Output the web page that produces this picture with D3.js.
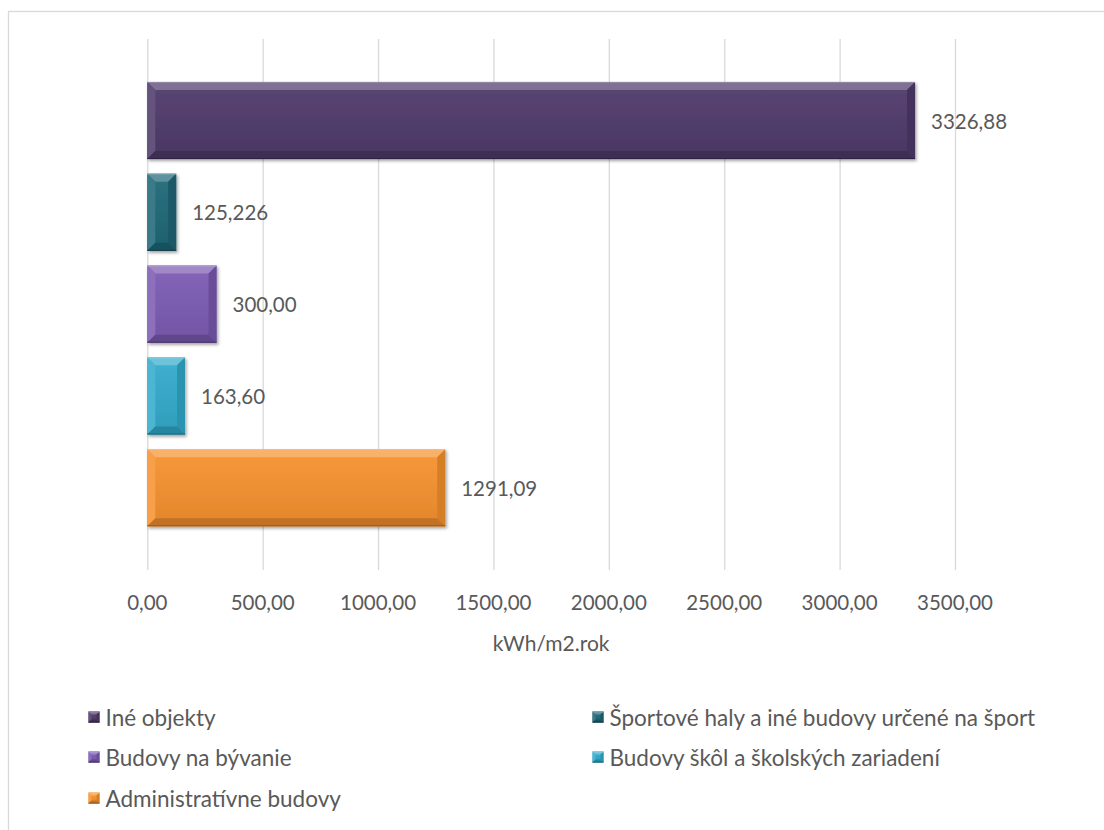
<!DOCTYPE html>
<html>
<head>
<meta charset="utf-8">
<script src="https://cdn.jsdelivr.net/npm/d3@7"></script>
<style>
  html, body { margin: 0; padding: 0; background: #fff; }
  svg { display: block; }
  text { font-family: Lato, "Open Sans", sans-serif; fill: #595959; }
</style>
</head>
<body>
<svg id="chart" width="1104" height="830"></svg>
<script>
// Energy intensity per building type (kWh/m2 per year)
const categories = [
  "Iné objekty",
  "Športové haly a iné budovy určené na šport",
  "Budovy na bývanie",
  "Budovy škôl a školských zariadení",
  "Administratívne budovy"
];
const values = [3326.88, 125.226, 300.00, 163.60, 1291.09];
const valueLabels = ["3326,88", "125,226", "300,00", "163,60", "1291,09"];
const xTicks = [0, 500, 1000, 1500, 2000, 2500, 3000, 3500];
const colors = ["#4f3a6b", "#1f6878", "#7c5bb3", "#33abcc", "#f7922f"];
const axisTitle = "kWh/m2.rok";

const skFormat = d3.formatLocale({ decimal: ",", thousands: " ", grouping: [3], currency: ["", ""] }).format(".2f");

const svg = d3.select("#chart");

// outer chart frame
svg.append("rect")
  .attr("x", 8.5).attr("y", 11.5)
  .attr("width", 1100).attr("height", 830)
  .attr("fill", "#fff").attr("stroke", "#d9d9d9").attr("stroke-width", 1.3);

const defs = svg.append("defs");
const shadow = defs.append("filter").attr("id", "shadow")
  .attr("x", "-10%").attr("y", "-10%").attr("width", "130%").attr("height", "130%");
shadow.append("feDropShadow")
  .attr("dx", 1.5).attr("dy", 2).attr("stdDeviation", 1.6)
  .attr("flood-color", "#000").attr("flood-opacity", 0.35);

const x = d3.scaleLinear().domain([0, 3500]).range([147.3, 955]);
const y = d3.scaleBand().domain(categories).range([74.6, 533.6])
  .paddingInner(0.16).paddingOuter(0.08);

// vertical gridlines
svg.append("g").selectAll("line").data(xTicks).join("line")
  .attr("x1", d => x(d) + 0.5).attr("x2", d => x(d) + 0.5)
  .attr("y1", 39).attr("y2", 570)
  .attr("stroke", "#d9d9d9").attr("stroke-width", 1.3);

// tick labels
svg.append("g").selectAll("text").data(xTicks).join("text")
  .attr("x", d => x(d)).attr("y", 602)
  .attr("text-anchor", "middle").attr("dominant-baseline", "central")
  .attr("font-size", 20.5)
  .text(d => skFormat(d));

svg.append("text")
  .attr("x", (x(0) + x(3500)) / 2).attr("y", 642)
  .attr("text-anchor", "middle").attr("dominant-baseline", "central")
  .attr("font-size", 21)
  .text(axisTitle);

const mix = (c, t, k) => d3.interpolateRgb(c, t)(k);

// bevelled box: light top/left edges, dark bottom/right edges
function bevelBox(g, x0, y0, x1, y1, color, b, id) {
  const grad = defs.append("linearGradient").attr("id", id)
    .attr("x1", 0).attr("y1", 0).attr("x2", 0).attr("y2", 1);
  grad.append("stop").attr("offset", "0%").attr("stop-color", mix(color, "#fff", 0.06));
  grad.append("stop").attr("offset", "100%").attr("stop-color", mix(color, "#000", 0.08));
  const bb = Math.min(b, (x1 - x0) / 2, (y1 - y0) / 2);
  const box = g.append("g");
  box.append("rect").attr("x", x0).attr("y", y0)
    .attr("width", x1 - x0).attr("height", y1 - y0)
    .attr("fill", `url(#${id})`);
  const poly = (pts, fill) => box.append("polygon")
    .attr("points", pts.map(p => p.join(",")).join(" ")).attr("fill", fill);
  poly([[x0, y0], [x1, y0], [x1 - bb, y0 + bb], [x0 + bb, y0 + bb]], mix(color, "#fff", 0.28));
  poly([[x0, y0], [x0 + bb, y0 + bb], [x0 + bb, y1 - bb], [x0, y1]], mix(color, "#fff", 0.12));
  poly([[x0, y1], [x0 + bb, y1 - bb], [x1 - bb, y1 - bb], [x1, y1]], mix(color, "#000", 0.22));
  poly([[x1, y0], [x1, y1], [x1 - bb, y1 - bb], [x1 - bb, y0 + bb]], mix(color, "#000", 0.14));
  box.append("line").attr("x1", x0).attr("x2", x1).attr("y1", y0 + 0.5).attr("y2", y0 + 0.5)
    .attr("stroke", mix(color, "#fff", 0.4)).attr("stroke-width", 1);
  box.append("line").attr("x1", x0).attr("x2", x1).attr("y1", y1 - 0.5).attr("y2", y1 - 0.5)
    .attr("stroke", mix(color, "#000", 0.4)).attr("stroke-width", 1);
  return box;
}

// bars
const barLayer = svg.append("g").attr("filter", "url(#shadow)");
categories.forEach((c, i) => {
  bevelBox(barLayer, x(0), y(c), x(values[i]), y(c) + y.bandwidth(), colors[i], 8, "bar" + i);
});

// value labels
svg.append("g").selectAll("text").data(categories).join("text")
  .attr("x", (d, i) => x(values[i]) + 16)
  .attr("y", d => y(d) + y.bandwidth() / 2)
  .attr("dominant-baseline", "central")
  .attr("font-size", 20.5)
  .text((d, i) => valueLabels[i]);

// legend, two columns
const legendCols = [88.5, 592.5];
const legendRows = [717, 757, 798];
const legend = svg.append("g");
categories.forEach((c, i) => {
  const lx = legendCols[i % 2];
  const ly = legendRows[Math.floor(i / 2)];
  bevelBox(legend, lx, ly - 5.5, lx + 11, ly + 5.5, colors[i], 3, "leg" + i);
  legend.append("text")
    .attr("x", lx + 17).attr("y", ly)
    .attr("dominant-baseline", "central")
    .attr("font-size", 22.5)
    .text(c);
});
</script>
</body>
</html>
